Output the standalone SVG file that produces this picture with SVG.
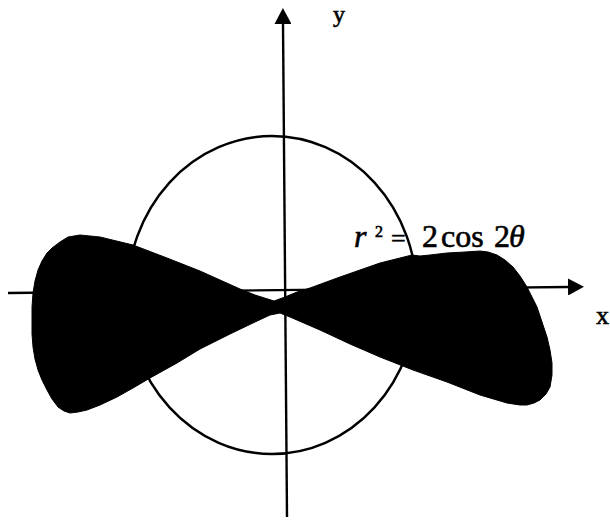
<svg xmlns="http://www.w3.org/2000/svg" width="610" height="521" viewBox="0 0 610 521">
<style>
.axis{stroke:#000;stroke-width:2.4;fill:none}
.curve{stroke:#000;stroke-width:2.4;fill:none}
.fill{fill:#000;stroke:#000;stroke-width:1;stroke-linejoin:round}
.lbl{font-family:"Liberation Serif","Times New Roman",serif;fill:#000;stroke:#000;stroke-width:0.6}
</style>
<defs>
<marker id="arr" viewBox="0 0 16 17" markerWidth="16" markerHeight="17" refX="0" refY="8.5" orient="auto" markerUnits="userSpaceOnUse">
<path d="M0,0 L16,8.5 L0,17 Z" fill="#000"/>
</marker>
</defs>
<rect width="610" height="521" fill="#fff"/>
<g id="circle">
<ellipse class="curve" cx="272" cy="295" rx="145" ry="159"/>
</g>
<g id="lemniscate">
<path class="fill" d="M274,301 L255,295 L240,289 L200,271 L167,258 L133,245 L100,237 L80,235 L68,237 L60,242 L52,248 L47,253 L42,261 L38,270 L35,281 L33,293 L32,307 L32,320 L32,334 L33,347 L35,359 L38,370 L42,380 L47,390 L52,399 L58,407 L64,411 L70,413 L78,412 L87,410 L100,405 L117,397 L133,388 L150,378 L177,363 L200,349 L230,334 L255,322 L270,315 L280,313 L290,317 L320,330 L350,344 L380,357 L413,370 L447,382 L480,395 L507,403 L520,405 L527,405 L534,403 L540,400 L546,394 L550,387 L552,375 L552,363 L550,350 L547,337 L542,322 L537,307 L532,297 L527,287 L520,276 L513,267 L505,260 L497,255 L488,252 L480,251 L465,252 L447,253 L430,255 L420,256 L412,255 L400,258 L380,263 L340,277 L310,288 L297,292 L285,297 Z"/>
</g>
<g id="connectors">
<line class="axis" x1="287" y1="517" x2="283" y2="24" marker-end="url(#arr)"/>
<line class="axis" x1="8" y1="293" x2="568" y2="287" marker-end="url(#arr)"/>
</g>
<g id="labels">
<text class="lbl" x="333" y="22" font-size="24">y</text>
<text class="lbl" x="596" y="324" font-size="26">x</text>
<text class="lbl" font-size="32" y="247"><tspan x="354" font-style="italic">r</tspan><tspan x="375" y="237" font-size="16">2</tspan><tspan x="391" y="247" font-size="26">=</tspan><tspan x="422" y="247">2</tspan><tspan x="441">cos</tspan><tspan x="494">2</tspan><tspan x="509" font-style="italic">θ</tspan></text>
</g>
</svg>
